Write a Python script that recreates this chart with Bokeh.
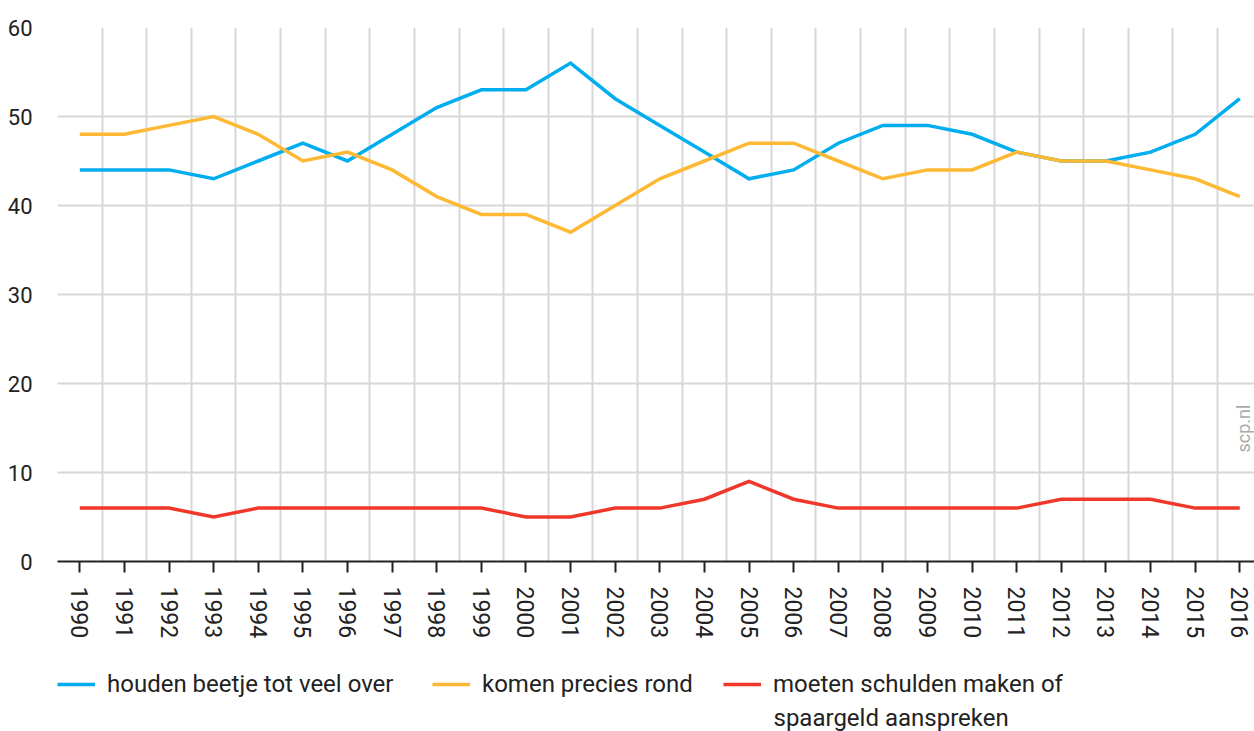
import math
from bokeh.plotting import figure
from bokeh.layouts import column
from bokeh.models import Range1d, FixedTicker, Legend, LegendItem, Label
from bokeh.embed import file_html
from bokeh.resources import INLINE

years = list(range(1990, 2017))
houden = [44, 44, 44, 43, 45, 47, 45, 48, 51, 53, 53, 56, 52, 49, 46, 43, 44,
          47, 49, 49, 48, 46, 45, 45, 46, 48, 52]
komen = [48, 48, 49, 50, 48, 45, 46, 44, 41, 39, 39, 37, 40, 43, 45, 47, 47,
         45, 43, 44, 44, 46, 45, 45, 44, 43, 41]
schulden = [6, 6, 6, 5, 6, 6, 6, 6, 6, 6, 5, 5, 6, 6, 7, 9, 7,
            6, 6, 6, 6, 6, 7, 7, 7, 6, 6]
y_ticks = [0, 10, 20, 30, 40, 50, 60]
labels = ["houden beetje tot veel over", "komen precies rond",
          "moeten schulden maken of", "spaargeld aanspreken"]

BLUE = "#00aeef"
ORANGE = "#fdb933"
RED = "#f0372a"
GRID = "#d7d7d7"
FONT = "Roboto"
TXT = "#222222"

W = 1254
p = figure(width=W, height=645, output_backend="svg", toolbar_location=None,
           x_range=Range1d(1989.5, 2016.33), y_range=Range1d(0, 60),
           min_border_left=57, min_border_right=0, min_border_top=27,
           min_border_bottom=84)
p.outline_line_color = None

# x axis
p.xaxis.ticker = FixedTicker(ticks=years)
p.xaxis.major_label_orientation = "vertical"
p.xaxis.minor_tick_line_color = None
p.xaxis.major_tick_in = 0
p.xaxis.major_tick_out = 11
p.xaxis.major_tick_line_width = 2
p.xaxis.major_tick_line_color = TXT
p.xaxis.axis_line_width = 2
p.xaxis.axis_line_color = TXT
p.xaxis.major_label_standoff = 14
p.xaxis.major_label_text_font = FONT
p.xaxis.major_label_text_font_size = "23px"
p.xaxis.major_label_text_color = TXT

# y axis
p.yaxis.ticker = FixedTicker(ticks=y_ticks)
p.yaxis.axis_line_color = None
p.yaxis.major_tick_line_color = None
p.yaxis.minor_tick_line_color = None
p.yaxis.major_label_standoff = 19
p.yaxis.major_label_text_font = FONT
p.yaxis.major_label_text_font_size = "22px"
p.yaxis.major_label_text_color = TXT

# grids
p.xgrid.ticker = FixedTicker(ticks=[y + 0.5 for y in range(1989, 2016)])
p.xgrid.grid_line_color = GRID
p.xgrid.grid_line_width = 2
p.ygrid.ticker = FixedTicker(ticks=y_ticks[1:])
p.ygrid.grid_line_color = GRID
p.ygrid.grid_line_width = 2

styles = [dict(line_width=3.5, line_color=c) for c in (BLUE, ORANGE, RED)]
p.line(years, houden, line_join="miter", **styles[0])
p.line(years, komen, line_join="miter", **styles[1])
p.line(years, schulden, line_join="miter", **styles[2])

p.add_layout(Label(x=2016.08, y=14.94, text="scp.nl", angle=math.pi / 2,
                   text_align="center", text_baseline="middle", text_font=FONT,
                   text_font_size="18px", text_color="#aaaaaa"))

# legend strip
lg = figure(width=W, height=86, output_backend="svg", toolbar_location=None,
            x_axis_type=None, y_axis_type=None, x_range=Range1d(0, 1),
            y_range=Range1d(0, 1), min_border_left=57, min_border_right=0,
            min_border_top=0, min_border_bottom=0)
lg.outline_line_color = None
lg.grid.visible = False

nan = float("nan")
dummies = [lg.line(x=[nan], y=[nan], **s) for s in styles]
for lab, r, x in zip(labels[:3], dummies, (0, 375, 666)):
    lg.add_layout(Legend(items=[LegendItem(label=lab, renderers=[r])],
                         location=(x, 32), padding=0, margin=0,
                         border_line_color=None, background_fill_alpha=0,
                         glyph_width=38, glyph_height=30, label_height=30,
                         label_standoff=12, label_text_font=FONT,
                         label_text_font_size="24px", label_text_color=TXT))

lg.add_layout(Label(x=716, y=14, x_units="screen", y_units="screen", text=labels[3],
                    text_baseline="middle", text_align="left", text_font=FONT,
                    text_font_size="24px", text_color=TXT))

layout = column(p, lg, spacing=0)
open("out.html", "w").write(file_html(layout, INLINE))
